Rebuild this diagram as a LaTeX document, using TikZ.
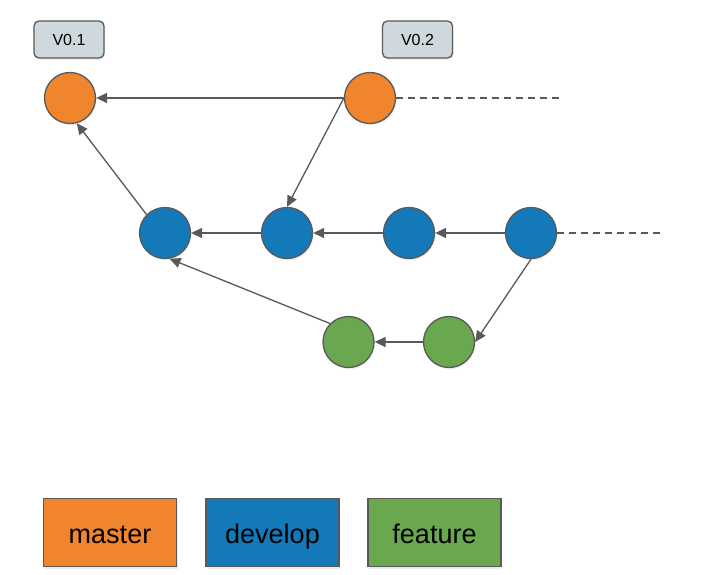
\documentclass[tikz,border=0pt]{standalone}
\usepackage{fontspec}
\setmainfont{Liberation Sans}
\usetikzlibrary{arrows.meta, shadows}

\definecolor{masterc}{HTML}{F0852D}
\definecolor{developc}{HTML}{1479B8}
\definecolor{featurec}{HTML}{6AA84F}
\definecolor{tagc}{HTML}{CFD8DC}
\definecolor{linec}{HTML}{595959}

\tikzset{
	commit/.style={draw=linec, line width=1.3pt, circle, minimum size=51pt,
		inner sep=0pt, drop shadow={opacity=0.12, shadow xshift=1pt, shadow yshift=-2pt}},
	tagbox/.style={draw=linec, line width=1.3pt, fill=tagc, rounded corners=5pt,
		minimum width=70pt, minimum height=37pt, font=\fontsize{16}{18}\selectfont,
		drop shadow={opacity=0.12, shadow xshift=1pt, shadow yshift=-2pt}},
	legend/.style={draw=linec, line width=1.3pt, minimum width=133pt,
		minimum height=68pt, text height=22pt, text depth=1pt,
		font=\fontsize{27}{30}\selectfont,
		drop shadow={opacity=0.15, shadow xshift=1pt, shadow yshift=-2pt}},
	link/.style={draw=linec, line width=1.3pt, -{Triangle[length=11pt, width=10pt]}},
	future/.style={draw=linec, line width=1.3pt, dash pattern=on 7pt off 5pt}
}

\begin{document}
\begin{tikzpicture}[x=1pt, y=-1pt]
	\useasboundingbox[fill=white] (0,0) rectangle (723,575);

	% tags
	\node[tagbox] (tagone) at (69,39.5) {V0.1};
	\node[tagbox] (tagtwo) at (417.5,39.5) {V0.2};

	% master
	\node[commit, fill=masterc] (mone) at (70,98) {};
	\node[commit, fill=masterc] (mtwo) at (370,98) {};
	\coordinate (mend) at (560,98);

	% develop
	\node[commit, fill=developc] (done)   at (165,233) {};
	\node[commit, fill=developc] (dtwo)   at (287,233) {};
	\node[commit, fill=developc] (dthree) at (409,233) {};
	\node[commit, fill=developc] (dfour)  at (531,233) {};
	\coordinate (dend) at (660,233);

	% feature
	\node[commit, fill=featurec] (fone) at (348.5,342) {};
	\node[commit, fill=featurec] (ftwo) at (449,342) {};

	\draw[future] (mtwo) -- (mend);
	\draw[future] (dfour) -- (dend);

	\draw[link] (mtwo) -- (mone);
	\draw[link] (done.135) -- (mone.-75);
	\draw[link] (mtwo.west) -- (dtwo.north);
	\draw[link] (dtwo) -- (done);
	\draw[link] (dthree) -- (dtwo);
	\draw[link] (dfour) -- (dthree);
	\draw[link] (dfour.south) -- (ftwo.east);
	\draw[link] (ftwo) -- (fone);
	\draw[link] (fone.135) -- (done.-80);

	% legend
	\node[legend, fill=masterc]  (lmaster)  at (110,532.5) {master};
	\node[legend, fill=developc] (ldevelop) at (272.5,532.5) {develop};
	\node[legend, fill=featurec] (lfeature) at (434.5,532.5) {feature};
\end{tikzpicture}
\end{document}
